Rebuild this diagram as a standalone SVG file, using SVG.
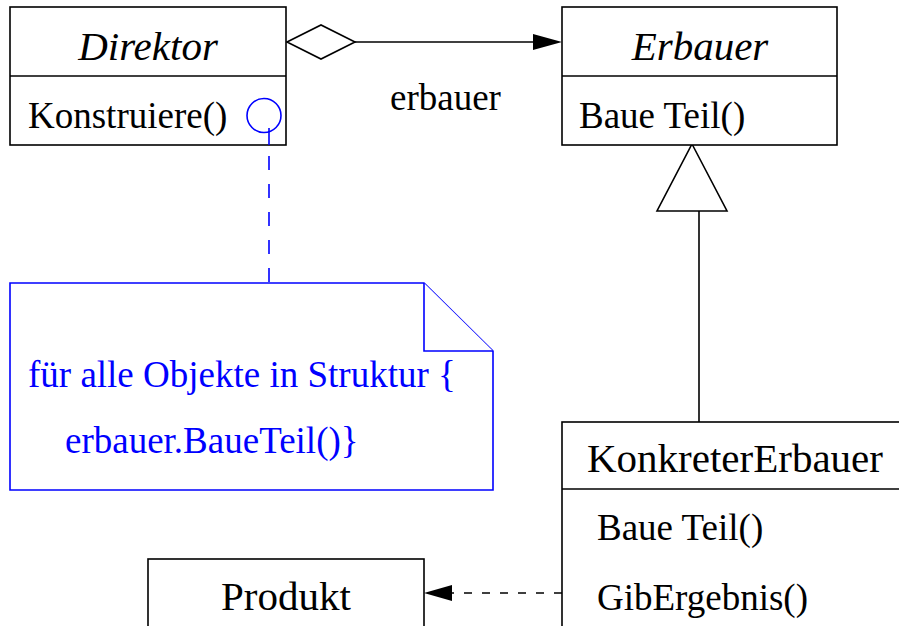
<svg xmlns="http://www.w3.org/2000/svg" width="899" height="626" viewBox="0 0 899 626">
  <style>
    .box { fill: #ffffff; stroke: #000000; stroke-width: 1.6; }
    .line { fill: none; stroke: #000000; stroke-width: 1.6; }
    .head { fill: #000000; stroke: none; }
    .note { fill: #ffffff; stroke: #0000ff; stroke-width: 1.6; }
    .anchor { fill: none; stroke: #0000ff; stroke-width: 1.6; }
    text { font-family: "Liberation Serif", "Times New Roman", serif; fill: #000000; }
    .cls { font-size: 41px; }
    .abs { font-style: italic; }
    .op { font-size: 37px; }
    .notetext { font-size: 37px; fill: #0000ff; }
  </style>
  <rect width="899" height="626" fill="#ffffff"/>

  <!-- Connectors -->
  <g id="connectors">
    <!-- aggregation Direktor -> Erbauer -->
    <line class="line" x1="355" y1="42" x2="533" y2="42"/>
    <path class="head" d="M533,34 L562,42 L533,50 Z"/>
    <polygon class="line" points="287,42 321,25 355,42 321,59"/>
    <text class="op" x="390" y="110">erbauer</text>
    <!-- generalization KonkreterErbauer -> Erbauer -->
    <line class="line" x1="699" y1="211" x2="699" y2="422"/>
    <polygon class="line" points="692,144 727,211 657,211"/>
    <!-- dependency KonkreterErbauer -> Produkt -->
    <line class="line" x1="562" y1="593" x2="452" y2="593" stroke-dasharray="8 10"/>
    <path class="head" d="M452,585 L424,593 L452,601 Z"/>
    <!-- dashed link from the operation to its note -->
    <line class="anchor" x1="269" y1="128" x2="269" y2="283" stroke-dasharray="14 14"/>
  </g>

  <!-- Direktor -->
  <g id="direktor">
    <rect class="box" x="10" y="7" width="276" height="138"/>
    <line class="line" x1="10" y1="76" x2="286" y2="76"/>
    <text class="cls abs" x="148" y="60" text-anchor="middle">Direktor</text>
    <text class="op" x="28" y="128">Konstruiere()</text>
    <circle class="anchor" cx="264" cy="115.5" r="17"/>
    <line class="anchor" x1="269" y1="128" x2="269" y2="145"/>
  </g>

  <!-- Erbauer -->
  <g id="erbauer">
    <rect class="box" x="562" y="7" width="275" height="138"/>
    <line class="line" x1="562" y1="76" x2="837" y2="76"/>
    <text class="cls abs" x="700" y="60" text-anchor="middle">Erbauer</text>
    <text class="op" x="579" y="128">Baue Teil()</text>
  </g>

  <!-- Note -->
  <g id="note">
    <path class="note" d="M10,283 L424,283 L493,351 L493,490 L10,490 Z"/>
    <path class="note" d="M424,283 L424,351 L493,351"/>
    <text class="notetext" x="28" y="387">für alle Objekte in Struktur {</text>
    <text class="notetext" x="65" y="453">erbauer.BaueTeil()}</text>
  </g>

  <!-- KonkreterErbauer -->
  <g id="konkreterErbauer">
    <rect class="box" x="562" y="422" width="350" height="220"/>
    <line class="line" x1="562" y1="489" x2="912" y2="489"/>
    <text class="cls" x="587" y="472">KonkreterErbauer</text>
    <text class="op" x="597" y="540">Baue Teil()</text>
    <text class="op" x="597" y="610">GibErgebnis()</text>
  </g>

  <!-- Produkt -->
  <g id="produkt">
    <rect class="box" x="148" y="559" width="276" height="90"/>
    <text class="cls" x="286" y="610" text-anchor="middle">Produkt</text>
  </g>
</svg>
